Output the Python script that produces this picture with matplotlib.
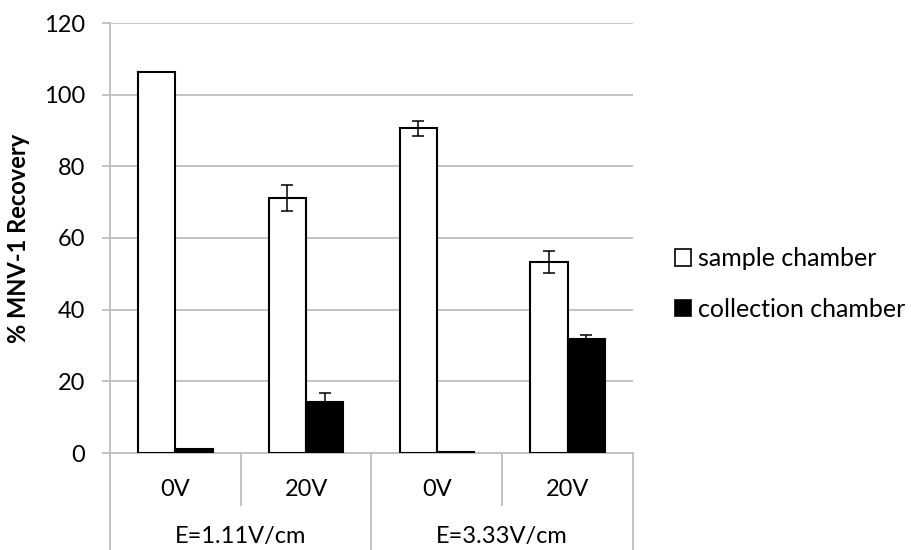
import matplotlib
matplotlib.use("Agg")
import matplotlib.pyplot as plt
from matplotlib.patches import Patch
import numpy as np

plt.rcParams["font.family"] = ["Lato", "DejaVu Sans"]

# values (percent recovery)
voltages = ["0V", "20V", "0V", "20V"]
fields = ["E=1.11V/cm", "E=3.33V/cm"]
sample_chamber = [106.4, 71.1, 90.6, 53.3]
sample_err = [0.0, 3.6, 2.1, 3.2]
collection_chamber = [1.2, 14.3, 0.4, 31.8]
collection_err = [0.0, 2.4, 0.0, 1.1]

GRID = "#BFBFBF"

fig = plt.figure(figsize=(9.12, 5.5), dpi=100)
ax = fig.add_axes([110 / 912, 1 - 453 / 550, 523 / 912, 430 / 550])

x = np.arange(len(voltages))
w = 1 / 3.5
ekw = dict(ecolor="black", elinewidth=1.1, capsize=4, capthick=1.1)
ax.bar(x - w / 2, sample_chamber, w, color="white", edgecolor="black",
       linewidth=1.5, zorder=3)
ax.errorbar(x - w / 2, sample_chamber, yerr=sample_err, fmt="none", zorder=4, **ekw)
ax.bar(x + w / 2, collection_chamber, w, color="black", edgecolor="black",
       linewidth=1.5, zorder=3)
ax.errorbar(x + w / 2, collection_chamber, yerr=collection_err, fmt="none", zorder=4, **ekw)

ax.set_xlim(-0.5, len(voltages) - 0.5)
ax.set_ylim(0, 120)
ax.set_yticks(range(0, 121, 20))
ax.yaxis.grid(True, color=GRID, linewidth=1.3)
ax.set_axisbelow(True)
ax.tick_params(axis="y", length=6, width=1.3, color=GRID, labelsize=17, pad=12)
ax.set_xticks([])
for side in ("top", "right"):
    ax.spines[side].set_visible(False)
for side in ("left", "bottom"):
    ax.spines[side].set_color(GRID)
    ax.spines[side].set_linewidth(1.3)
ax.set_ylabel("% MNV-1 Recovery", fontsize=17, fontweight="bold", labelpad=10)

# two-level category axis below the plot
trans = ax.get_xaxis_transform()
for b in (0.5, 2.5):
    ax.plot([b, b], [0, -0.121], color=GRID, lw=1.3, transform=trans, clip_on=False)
for b in (-0.5, 1.5, 3.5):
    ax.plot([b, b], [0, -0.235], color=GRID, lw=1.3, transform=trans, clip_on=False)
for xi, lab in zip(x, voltages):
    ax.text(xi, -0.086, lab, transform=trans, ha="center", va="center", fontsize=17)
for gi, lab in enumerate(fields):
    ax.text(2 * gi + 0.5, -0.195, lab, transform=trans, ha="center", va="center", fontsize=17)

handles = [Patch(facecolor="white", edgecolor="black", linewidth=1.2),
           Patch(facecolor="black", edgecolor="black", linewidth=1.2)]
fig.legend(handles, ["sample chamber", "collection chamber"], loc="center left",
           bbox_to_anchor=(675 / 912, 1 - 284 / 550), frameon=False, fontsize=18,
           handlelength=0.65, handleheight=0.65, handletextpad=0.25, labelspacing=1.1,
           borderaxespad=0, borderpad=0)

fig.savefig("out.png", dpi=100)
